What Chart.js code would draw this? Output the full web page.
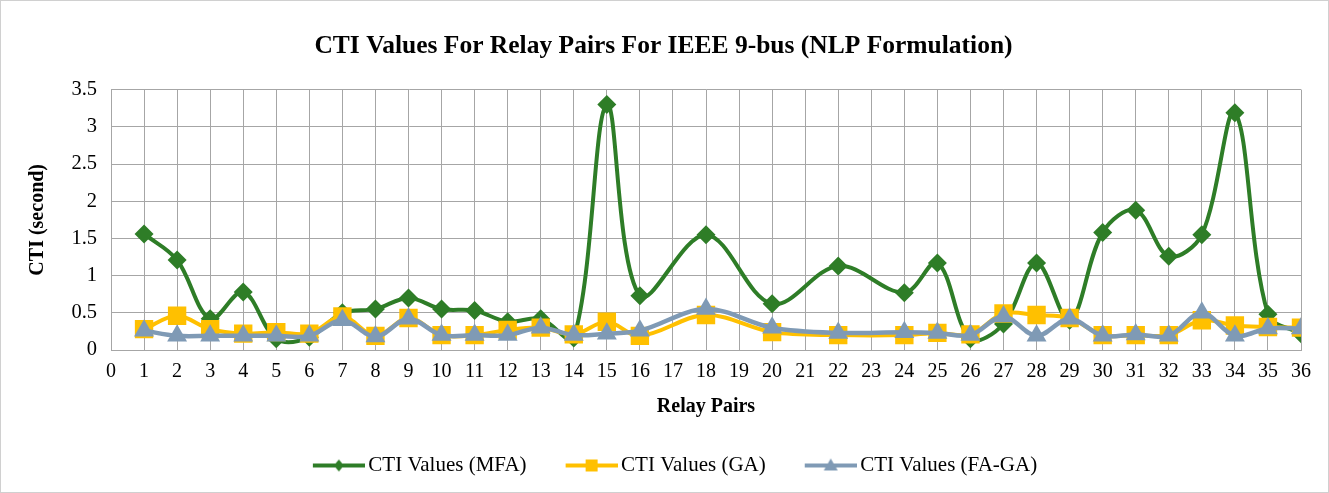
<!DOCTYPE html>
<html>
<head>
<meta charset="utf-8">
<script src="https://cdn.jsdelivr.net/npm/chart.js@4.4.1/dist/chart.umd.min.js"></script>
<style>
    body { margin: 0; background: #fff; }
    #wrap { position: relative; width: 1329px; height: 493px; box-sizing: border-box; border: 1px solid #d0d0d0; background: #fff; }
</style>
</head>
<body>
<div id="wrap"><canvas id="ctiChart"></canvas></div>
<script>
    // relay pair numbers that have a value (17, 19, 21, 23 are not plotted)
    const relayPairs = [1, 2, 3, 4, 5, 6, 7, 8, 9, 10, 11, 12, 13, 14, 15, 16, 18, 20, 22, 24, 25, 26, 27, 28, 29, 30, 31, 32, 33, 34, 35, 36];
    const mfaValues  = [1.56, 1.21, 0.42, 0.78, 0.15, 0.17, 0.50, 0.55, 0.70, 0.55, 0.53, 0.38, 0.42, 0.16, 3.30, 0.73, 1.55, 0.62, 1.13, 0.77, 1.17, 0.15, 0.35, 1.17, 0.40, 1.58, 1.88, 1.26, 1.55, 3.19, 0.48, 0.22];
    const gaValues   = [0.28, 0.46, 0.28, 0.22, 0.24, 0.22, 0.45, 0.19, 0.43, 0.20, 0.20, 0.27, 0.30, 0.21, 0.38, 0.19, 0.47, 0.24, 0.20, 0.20, 0.23, 0.21, 0.49, 0.47, 0.43, 0.20, 0.20, 0.20, 0.40, 0.33, 0.31, 0.30];
    const fagaValues = [0.26, 0.19, 0.19, 0.19, 0.19, 0.19, 0.40, 0.18, 0.42, 0.20, 0.20, 0.20, 0.30, 0.20, 0.22, 0.26, 0.55, 0.30, 0.23, 0.24, 0.23, 0.20, 0.45, 0.19, 0.42, 0.19, 0.21, 0.19, 0.50, 0.19, 0.29, 0.29];
    const seriesNames = ['CTI Values (MFA)', 'CTI Values (GA)', 'CTI Values (FA-GA)'];

    const FONT = "'Liberation Serif', 'Times New Roman', serif";
    const colors = ['#2E7D27', '#FFC000', '#7F9AB5'];
    const markers = ['rectRot', 'rect', 'triangle'];
    const radii = [9.5, 13, 11.5];

    function toPoints(values) {
        return relayPairs.map((x, i) => ({ x: x, y: values[i] }));
    }

    // line+marker picture for the legend; blank space on the left gives the gap between entries
    function legendIcon(color, style) {
        const c = document.createElement('canvas');
        c.width = 82; c.height = 20;
        const g = c.getContext('2d');
        g.strokeStyle = color; g.fillStyle = color; g.lineWidth = 4;
        g.beginPath(); g.moveTo(30, 10); g.lineTo(82, 10); g.stroke();
        g.beginPath();
        if (style === 'rectRot') {
            g.moveTo(56, 4); g.lineTo(61, 10); g.lineTo(56, 16); g.lineTo(51, 10);
        } else if (style === 'rect') {
            g.rect(50, 4, 12, 12);
        } else {
            g.moveTo(56, 3); g.lineTo(63, 15); g.lineTo(49, 15);
        }
        g.closePath(); g.fill();
        return c;
    }

    const datasets = [mfaValues, gaValues, fagaValues].map((vals, i) => ({
        label: seriesNames[i],
        data: toPoints(vals),
        showLine: true,
        borderColor: colors[i],
        backgroundColor: colors[i],
        borderWidth: i === 2 ? 4.5 : 4,
        pointStyle: markers[i],
        pointRadius: radii[i],
        pointHoverRadius: radii[i],
        pointBorderWidth: 0,
        tension: 0.35,
        order: 3 - i
    }));

    new Chart(document.getElementById('ctiChart'), {
        type: 'scatter',
        data: { datasets: datasets },
        options: {
            responsive: true,
            maintainAspectRatio: false,
            animation: false,
            layout: { padding: { top: 30, right: 27, bottom: 6, left: 25 } },
            plugins: {
                title: {
                    display: true,
                    text: 'CTI Values For Relay Pairs For IEEE 9-bus (NLP Formulation)',
                    color: '#000',
                    font: { family: FONT, size: 25.5, weight: 'bold' },
                    padding: { top: 0, bottom: 28 }
                },
                legend: {
                    position: 'bottom',
                    labels: {
                        color: '#000',
                        font: { family: FONT, size: 21 },
                        usePointStyle: true,
                        pointStyleWidth: 68,
                        padding: 16,
                        generateLabels: chart => chart.data.datasets.map((ds, i) => ({
                            text: ds.label,
                            pointStyle: legendIcon(colors[i], markers[i]),
                            fillStyle: colors[i],
                            strokeStyle: colors[i],
                            lineWidth: 0,
                            fontColor: '#000',
                            hidden: false,
                            datasetIndex: i
                        }))
                    }
                },
                tooltip: { enabled: false }
            },
            scales: {
                x: {
                    type: 'linear',
                    min: 0,
                    max: 36,
                    ticks: { stepSize: 1, color: '#000', font: { family: FONT, size: 20 }, padding: 10, maxRotation: 0, autoSkip: false },
                    grid: { color: '#A6A6A6', lineWidth: 1, drawTicks: false },
                    border: { color: '#A6A6A6' },
                    title: { display: true, text: 'Relay Pairs', color: '#000', font: { family: FONT, size: 20, weight: 'bold' }, padding: { top: 9, bottom: 20 } },
                    afterFit: scale => { scale.height = 89; }
                },
                y: {
                    min: 0,
                    max: 3.5,
                    ticks: { stepSize: 0.5, color: '#000', font: { family: FONT, size: 20.5 }, padding: 14, callback: v => String(v) },
                    grid: { color: '#A6A6A6', lineWidth: 1, drawTicks: false },
                    border: { color: '#A6A6A6' },
                    title: { display: true, text: 'CTI (second)', color: '#000', font: { family: FONT, size: 20, weight: 'bold' }, padding: { top: 0, bottom: 0 } },
                    afterFit: scale => { scale.width = 85; }
                }
            }
        }
    });
</script>
</body>
</html>
